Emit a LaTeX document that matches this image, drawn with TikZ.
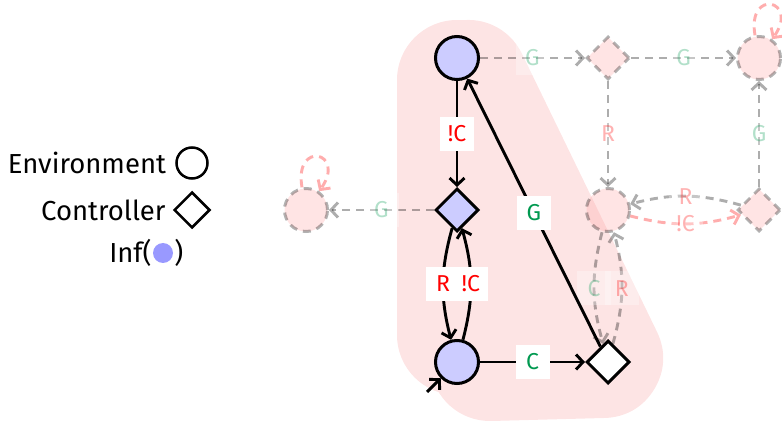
\documentclass[tikz,border=0pt]{standalone}
\usepackage{fontspec}
\setmainfont{Fira Sans}
\usepackage{tikz}
\usetikzlibrary{positioning, arrows.meta, shapes.geometric}
\definecolor{ltlred}{RGB}{255, 0, 0}
\definecolor{ltlgreen}{RGB}{0, 153, 80}
\definecolor{infblue}{RGB}{204, 204, 255}
\definecolor{infdot}{RGB}{153, 153, 255}
\definecolor{regionpink}{RGB}{253, 228, 228}
\newcommand{\lblfont}{\fontsize{23}{26}\selectfont}
\newcommand{\legendfont}{\fontsize{27.5}{31}\selectfont}
\tikzset{
    statenode/.style={draw, line width=3pt, minimum size=43pt, inner sep=0pt},
    envnode/.style={statenode, circle},
    ctrlnode/.style={statenode, diamond},
    infnode/.style={fill=infblue},
    ghostnode/.style={fill=red!35, opacity=0.3, dash pattern=on 8pt off 6pt},
    trans/.style={line width=2.9pt, -{Straight Barb[length=7pt, width=15pt]}},
    ghosttrans/.style={trans, opacity=0.32, dash pattern=on 8pt off 6pt},
    lbl/.style={fill=white, font=\lblfont, inner sep=0pt, minimum width=34pt, minimum height=34pt},
    redlbl/.style={lbl, text=ltlred},
    greenlbl/.style={lbl, text=ltlgreen},
    ghostlbl/.style={opacity=0.3},
    legendtext/.style={font=\legendfont, inner sep=0pt}
}

\begin{document}
\begin{tikzpicture}[x=1pt, y=-1pt, node distance=152pt and 151pt, on grid]
    \useasboundingbox (0,0) rectangle (782,422);

    % highlighted region
    \draw[regionpink, fill=regionpink, line width=120pt, line cap=round] (457,80) -- (457,335);
    \filldraw[regionpink, line width=120pt, line join=round] (468,80) -- (603,358) -- (490,361) -- cycle;

    % legend
    \begin{scope}[on grid=false]
        \node[envnode, line width=2.5pt, minimum size=31pt] (legenv) at (192,163) {};
        \node[legendtext, left=9pt of legenv] (legenvtext) {Environment};
        \node[ctrlnode, line width=2.5pt, minimum size=36pt] (legctrl) at (192,210) {};
        \node[legendtext, left=7pt of legctrl] (legctrltext) {Controller};
        \node[circle, fill=infdot, minimum size=20pt, inner sep=0pt] (leginf) at (163,253) {};
        \node[legendtext, left=1pt of leginf] (leginftext) {Inf(};
        \node[legendtext, right=1pt of leginf] (leginfclose) {)};
    \end{scope}

    % game graph
    \node[envnode, infnode] (A) at (457,58) {};
    \node[ctrlnode, infnode, below=of A] (B) {};
    \node[envnode, infnode, below=of B] (C) {};
    \node[ctrlnode, fill=white, right=of C] (D) {};
    \node[ctrlnode, ghostnode, right=of A] (E) {};
    \node[envnode, ghostnode, right=of E] (F) {};
    \node[envnode, ghostnode, below=of E] (G) {};
    \node[ctrlnode, ghostnode, right=of G] (H) {};
    \node[envnode, ghostnode, left=of B] (I) {};
    \coordinate (cstart) at (427,392);

    % moves outside the region
    \draw[ghosttrans] (A) -- node[greenlbl, ghostlbl] {G} (E);
    \draw[ghosttrans] (E) -- node[greenlbl, ghostlbl] {G} (F);
    \draw[ghosttrans] (E) -- node[redlbl, ghostlbl] {R} (G);
    \draw[ghosttrans] (H) -- node[greenlbl, ghostlbl] {G} (F);
    \draw[ghosttrans] (H) to[bend right=15] node[redlbl, ghostlbl] {R} (G);
    \draw[ghosttrans, ltlred] (G) to[bend right=15] node[redlbl, ghostlbl] {!C} (H);
    \draw[ghosttrans] (G) to[bend right=15] node[greenlbl, ghostlbl] {C} (D);
    \draw[ghosttrans] (D) to[bend right=15] node[redlbl, ghostlbl] {R} (G);
    \draw[ghosttrans] (B) -- node[greenlbl, ghostlbl] {G} (I);
    \draw[ghosttrans, ltlred] (F) to[out=100, in=55, looseness=7] (F);
    \draw[ghosttrans, ltlred] (I) to[out=100, in=55, looseness=7] (I);

    % moves inside the region
    \draw[trans] (A) -- node[redlbl] {!C} (B);
    \draw[trans] (B) to[bend right=15] node[redlbl] {R} (C);
    \draw[trans] (C) to[bend right=15] node[redlbl] {!C} (B);
    \draw[trans] (C) -- node[greenlbl] {C} (D);
    \draw[trans] (D) -- node[greenlbl] {G} (A);
    \draw[trans] (cstart) -- (C);
\end{tikzpicture}
\end{document}
